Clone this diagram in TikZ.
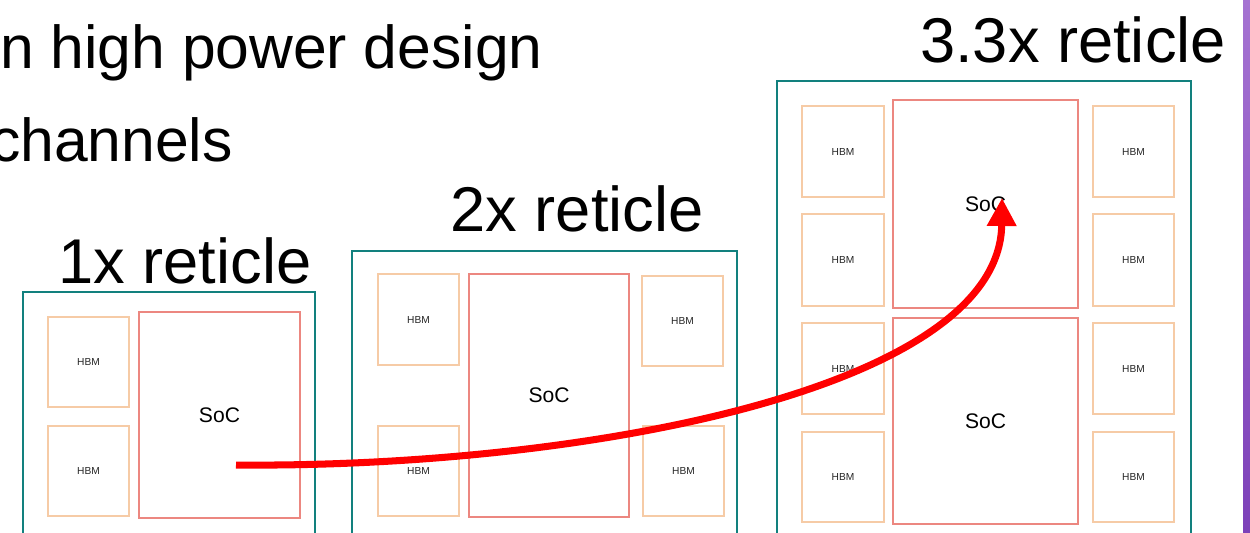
\documentclass[tikz,border=0pt]{standalone}
\usepackage{fontspec}
\setmainfont{Liberation Sans}
\usetikzlibrary{arrows.meta}
\definecolor{tealc}{RGB}{18,128,126}
\definecolor{socc}{RGB}{236,135,128}
\definecolor{hbmc}{RGB}{246,203,166}
\definecolor{arrowred}{RGB}{255,0,0}
\definecolor{purpA}{RGB}{165,115,210}
\definecolor{purpB}{RGB}{125,65,185}
\newcommand{\blk}[7]{\node[#6, minimum width={(#4-#2)*0.02cm}, minimum height={(#5-#3)*0.02cm}] (#1) at ({(#2+#4)/2},{(#3+#5)/2}) {#7};}
\begin{document}
\begin{tikzpicture}[x=0.02cm,y=-0.02cm,
  outerbox/.style={draw=tealc, line width=1.1pt, inner sep=0pt},
  socbox/.style={draw=socc, line width=1.4pt, inner sep=0pt, font=\fontsize{12}{14}\selectfont},
  hbmbox/.style={draw=hbmc, line width=1.4pt, inner sep=0pt, text=black!85, font=\fontsize{5.8}{7}\selectfont},
  title/.style={font=\fontsize{36}{40}\selectfont, inner sep=0pt},
  bodytext/.style={font=\fontsize{34.5}{38}\selectfont, inner sep=0pt},
  arrowline/.style={draw=arrowred, line width=4pt, -{Triangle[length=0.56cm,width=0.56cm]}}]
\useasboundingbox (0,0) rectangle (1250,532);
\clip (0,0) rectangle (1250,532);
\fill[white] (0,0) rectangle (1250,532);
\shade[top color=purpA, bottom color=purpB] (1243,0) rectangle (1250,532);
% top text
\node[bodytext, anchor=base east] (l1) at (543,68) {n high power design};
\node[bodytext, anchor=base east] (l2) at (233,161) {channels};
% titles
\node[title, anchor=base] (t1) at (185,283) {1x reticle};
\node[title, anchor=base] (t2) at (577,231) {2x reticle};
\node[title, anchor=base] (t3) at (1073,62) {3.3x reticle};
% 1x reticle
\blk{o1}{23}{292}{315}{570}{outerbox}{}
\blk{h11}{48}{317}{129}{407}{hbmbox}{HBM}
\blk{h12}{48}{426}{129}{516}{hbmbox}{HBM}
\blk{s1}{139}{312}{300}{518}{socbox}{SoC}
% 2x reticle
\blk{o2}{352}{251}{737}{570}{outerbox}{}
\blk{h21}{378}{274}{459}{365}{hbmbox}{HBM}
\blk{h22}{378}{426}{459}{516}{hbmbox}{HBM}
\blk{s2}{469}{274}{629}{517}{socbox}{SoC}
\blk{h23}{642}{276}{723}{366}{hbmbox}{HBM}
\blk{h24}{643}{426}{724}{516}{hbmbox}{HBM}
% 3.3x reticle
\blk{o3}{777}{81}{1191}{570}{outerbox}{}
\blk{h31}{802}{106}{884}{197}{hbmbox}{HBM}
\blk{h32}{802}{214}{884}{306}{hbmbox}{HBM}
\blk{h33}{802}{323}{884}{414}{hbmbox}{HBM}
\blk{h34}{802}{432}{884}{522}{hbmbox}{HBM}
\blk{h35}{1093}{106}{1174}{197}{hbmbox}{HBM}
\blk{h36}{1093}{214}{1174}{306}{hbmbox}{HBM}
\blk{h37}{1093}{323}{1174}{414}{hbmbox}{HBM}
\blk{h38}{1093}{432}{1174}{522}{hbmbox}{HBM}
\blk{s31}{893}{100}{1078}{308}{socbox}{SoC}
\blk{s32}{893}{318}{1078}{524}{socbox}{SoC}
% arrow
\coordinate (start) at (236,465);
\coordinate (tip) at (1002,198);
\draw[arrowline] (start) .. controls (580,468) and (1000,390) .. (tip);
\end{tikzpicture}
\end{document}
